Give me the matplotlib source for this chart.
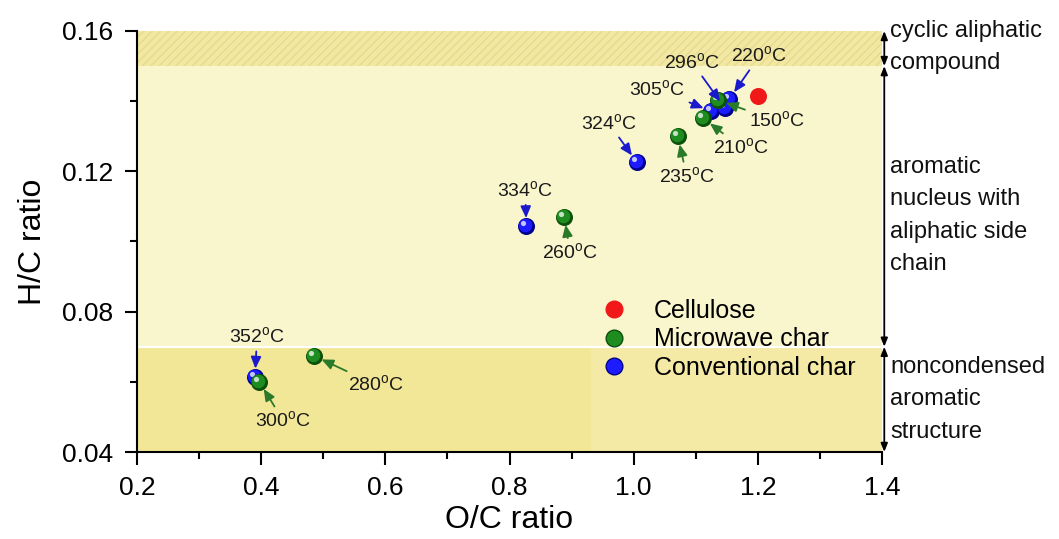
import matplotlib
matplotlib.use("Agg")
import matplotlib.pyplot as plt
from matplotlib.transforms import offset_copy, blended_transform_factory
from matplotlib.lines import Line2D

plt.rcParams["font.family"] = ["Liberation Sans", "DejaVu Sans"]
plt.rcParams["mathtext.fontset"] = "custom"
plt.rcParams["mathtext.rm"] = "Liberation Sans"

# ---- data -------------------------------------------------------------
cellulose_oc = [1.200]
cellulose_hc = [0.1414]

microwave_temps = [150, 210, 235, 260, 280, 300]
microwave_oc = [1.136, 1.112, 1.071, 0.888, 0.485, 0.397]
microwave_hc = [0.1403, 0.1351, 0.1300, 0.1071, 0.0674, 0.0600]

conventional_temps = [220, 296, 305, 324, 334, 352]
conventional_oc = [1.154, 1.147, 1.125, 1.005, 0.827, 0.390]
conventional_hc = [0.1406, 0.1380, 0.1371, 0.1226, 0.1043, 0.0614]

region_bounds = [0.04, 0.07, 0.15, 0.16]
region_names = ["noncondensed\naromatic\nstructure",
                "aromatic\nnucleus with\naliphatic side\nchain",
                "cyclic aliphatic\ncompound"]

# ---- styling ----------------------------------------------------------
microwave_label_offsets = [(59, -21), (38, -29), (9, -40), (6, -36), (62, -29), (24, -39)]
conventional_label_offsets = [(30, 43), (-33, 46), (-54, 22), (-28, 39), (-1, 36), (2, 40)]
region_colors = ["#f2e796", "#f9f5cd", "#f2e8a2"]
region_text_y = [0.0550, 0.1074, 0.1555]

GREEN_DARK, GREEN = "#0b500b", "#1f8c1f"
BLUE_DARK, BLUE = "#00008c", "#1c1cff"
RED = "#f01818"

fig = plt.figure(figsize=(10.59, 5.39), dpi=100)
ax = fig.add_axes([0.1294, 0.1614, 0.7035, 0.7811])

ax.set_xlim(0.2, 1.4)
ax.set_ylim(0.04, 0.16)

# shaded structural regions
for lo, hi, col in zip(region_bounds[:-1], region_bounds[1:], region_colors):
    ax.axhspan(lo, hi, color=col, lw=0, zorder=0)
# slightly paler patch of the lower band behind the legend column
ax.axhspan(region_bounds[0], region_bounds[1], xmin=0.61, xmax=1.0,
           color="#f4eaa6", lw=0, zorder=0.2)
ax.axhspan(region_bounds[2], region_bounds[3], facecolor="none",
           edgecolor="#e6da92", hatch="////", lw=0, zorder=0.5)
ax.axhline(region_bounds[1], color="white", lw=1.5, zorder=0.6)


def spheres(xs, ys, dark, main, z):
    ax.scatter(xs, ys, s=150, color=dark, lw=0, zorder=z)
    t1 = offset_copy(ax.transData, fig=fig, x=-1, y=1, units="dots")
    ax.scatter(xs, ys, s=95, color=main, lw=0, zorder=z + 0.01, transform=t1)
    t2 = offset_copy(ax.transData, fig=fig, x=-3, y=3, units="dots")
    ax.scatter(xs, ys, s=14, color="white", alpha=0.75, lw=0,
               zorder=z + 0.02, transform=t2)


ax.scatter(cellulose_oc, cellulose_hc, s=150, color=RED, lw=0, zorder=3)
spheres(conventional_oc, conventional_hc, BLUE_DARK, BLUE, 4)
spheres(microwave_oc, microwave_hc, GREEN_DARK, GREEN, 5)


def labels(xs, ys, temps, offsets, color):
    for x, y, t, (dx, dy) in zip(xs, ys, temps, offsets):
        ax.annotate(f"{t}$^{{\\mathrm{{o}}}}$C", xy=(x, y), xytext=(dx, dy),
                    textcoords="offset pixels", ha="center", va="center",
                    fontsize=14, color="#1a1a1a", zorder=8,
                    arrowprops=dict(arrowstyle="-|>,head_length=0.5,head_width=0.22",
                                    color=color, lw=1.3, shrinkA=1, shrinkB=6))


labels(microwave_oc, microwave_hc, microwave_temps, microwave_label_offsets, "#2a7a2a")
labels(conventional_oc, conventional_hc, conventional_temps, conventional_label_offsets, "#1a1acc")

# region brackets on the right
trans = blended_transform_factory(ax.transAxes, ax.transData)
for lo, hi, name, ty in zip(region_bounds[:-1], region_bounds[1:], region_names, region_text_y):
    ax.annotate("", xy=(1.003, hi), xytext=(1.003, lo), xycoords=trans, textcoords=trans,
                arrowprops=dict(arrowstyle="<|-|>,head_length=0.5,head_width=0.2",
                                color="black", lw=1.3, shrinkA=0, shrinkB=0),
                annotation_clip=False)
    ax.text(1.0107, ty, name, transform=trans, ha="left", va="center",
            fontsize=17, linespacing=1.6, color="#111111")

# legend
handles = [
    Line2D([], [], marker="o", ls="", color=RED, markersize=12),
    Line2D([], [], marker="o", ls="", color=GREEN, markeredgecolor=GREEN_DARK, markersize=12),
    Line2D([], [], marker="o", ls="", color=BLUE, markeredgecolor=BLUE_DARK, markersize=12),
]
ax.legend(handles, ["Cellulose", "Microwave char", "Conventional char"],
          loc="upper left", bbox_to_anchor=(0.6, 0.405), frameon=False,
          fontsize=18, handlelength=1.0, handletextpad=1.1, labelspacing=0.18,
          borderpad=0.2)

# axes
for side in ("top", "right"):
    ax.spines[side].set_visible(False)
for side in ("left", "bottom"):
    ax.spines[side].set_linewidth(1.5)
    ax.spines[side].set_zorder(10)

ax.set_xticks([0.2, 0.4, 0.6, 0.8, 1.0, 1.2, 1.4])
ax.set_xticks([0.3, 0.5, 0.7, 0.9, 1.1, 1.3], minor=True)
ax.set_yticks([0.04, 0.08, 0.12, 0.16])
ax.set_yticks([0.06, 0.10, 0.14], minor=True)
ax.xaxis.set_major_formatter(matplotlib.ticker.FormatStrFormatter("%.1f"))
ax.yaxis.set_major_formatter(matplotlib.ticker.FormatStrFormatter("%.2f"))
ax.tick_params(axis="x", which="major", pad=8)
ax.tick_params(axis="y", which="major", pad=8)
ax.tick_params(which="major", direction="out", length=9, width=1.5, labelsize=19)
ax.tick_params(which="minor", direction="out", length=5, width=1.5)

ax.set_xlabel("O/C ratio", fontsize=23, labelpad=4)
ax.set_ylabel("H/C ratio", fontsize=23, labelpad=10)

fig.savefig("out.png", dpi=100)
